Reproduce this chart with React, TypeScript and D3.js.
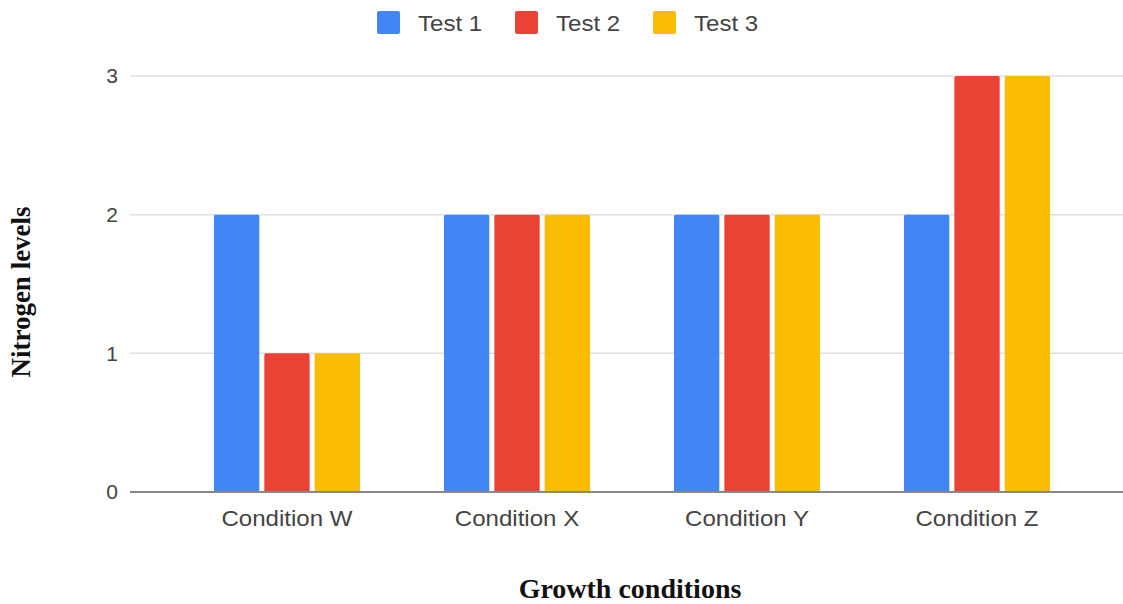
import React from "react";
import * as d3 from "d3";

const categories = ["Condition W", "Condition X", "Condition Y", "Condition Z"];
const seriesNames = ["Test 1", "Test 2", "Test 3"];
const test1 = [2, 2, 2, 2];
const test2 = [1, 2, 2, 3];
const test3 = [1, 2, 2, 3];
const yTicks = [0, 1, 2, 3];
const colors = ["#4285F4", "#EA4335", "#FBBC04"];

const W = 1123;
const H = 604;

export default function App() {
  const series = [test1, test2, test3];
  const x0 = d3.scaleBand<string>().domain(categories).range([130, 1134]).paddingInner(0.365).paddingOuter(0.365);
  const x1 = d3.scaleBand<string>().domain(seriesNames).range([0, x0.bandwidth()]).paddingInner(0.1);
  const y = d3.scaleLinear().domain([0, 3]).range([492, 76]);
  const sans = "'Liberation Sans', Arial, sans-serif";
  const serif = "'Liberation Serif', 'Times New Roman', serif";
  const legendX = [377, 515, 653];
  const sx = 1.12;

  return (
    <svg width={W} height={H} style={{ position: "absolute", left: 0, top: 0, background: "#fff" }}>
      {yTicks.map((t) => (
        <g key={t}>
          {t !== 0 && <line x1={130} x2={W} y1={y(t)} y2={y(t)} stroke="#e0e0e0" strokeWidth={1.5} />}
          <text x={118} y={y(t)} dy="0.35em" textAnchor="end" fontFamily={sans} fontSize={21} fill="#444">{t}</text>
        </g>
      ))}
      {categories.map((c, i) => (
        <g key={c}>
          {seriesNames.map((s, j) => (
            <rect key={s} x={(x0(c) as number) + (x1(s) as number)} y={y(series[j][i])} width={x1.bandwidth()} height={y(0) - y(series[j][i])} fill={colors[j]} rx={1.5} />
          ))}
          <text transform={`translate(${(x0(c) as number) + x0.bandwidth() / 2},526) scale(${sx},1)`} textAnchor="middle" fontFamily={sans} fontSize={21.5} fill="#444">{c}</text>
        </g>
      ))}
      <line x1={130} x2={W} y1={y(0)} y2={y(0)} stroke="#888" strokeWidth={2} />
      {seriesNames.map((s, j) => (
        <g key={s}>
          <rect x={legendX[j]} y={11} width={23} height={23} rx={2} fill={colors[j]} />
          <text transform={`translate(${legendX[j] + 41},31) scale(${sx},1)`} fontFamily={sans} fontSize={21.5} fill="#444">{s}</text>
        </g>
      ))}
      <text transform={`translate(30,292) rotate(-90)`} textAnchor="middle" fontFamily={serif} fontWeight="bold" fontSize={27} fill="#111">Nitrogen levels</text>
      <text x={630} y={598} textAnchor="middle" fontFamily={serif} fontWeight="bold" fontSize={28} fill="#111">Growth conditions</text>
    </svg>
  );
}
